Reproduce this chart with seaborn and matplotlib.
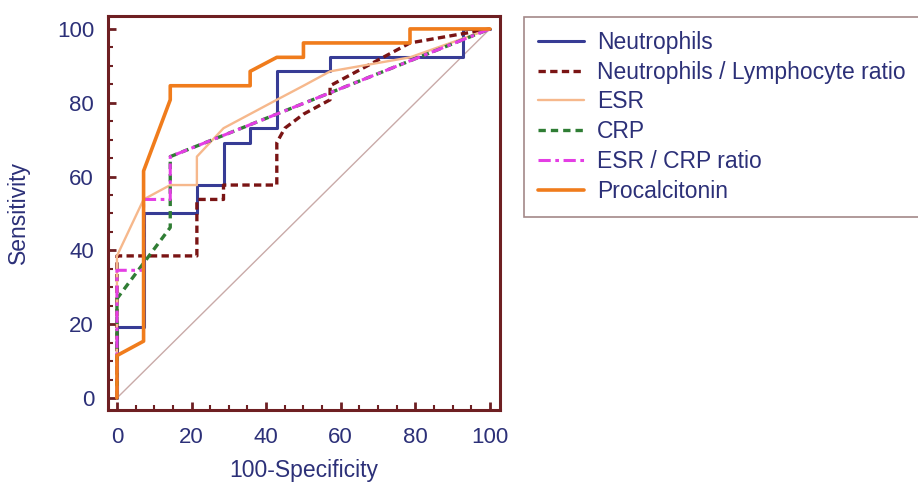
import matplotlib
matplotlib.use('Agg')
import matplotlib.pyplot as plt
import pandas as pd
import seaborn as sns
from matplotlib.ticker import MultipleLocator

# ROC curve points (100-Specificity, Sensitivity)
neut_x = [0, 0, 7.14, 7.14, 21.43, 21.43, 28.57, 28.57, 35.71, 35.71, 42.86, 42.86, 57.14, 57.14, 92.86, 92.86, 100]
neut_y = [0, 19.2, 19.2, 50.0, 50.0, 57.7, 57.7, 69.2, 69.2, 73.1, 73.1, 88.5, 88.5, 92.3, 92.3, 100, 100]

nlr_x = [0, 0, 21.43, 21.43, 28.57, 28.57, 42.86, 42.86, 45.0, 50.0, 57.14, 57.14, 78.57, 100]
nlr_y = [0, 38.5, 38.5, 53.8, 53.8, 57.7, 57.7, 69.2, 73.1, 76.9, 80.8, 84.6, 96.2, 100]

esr_x = [0, 0, 7.14, 14.29, 21.43, 21.43, 28.57, 42.86, 50.0, 57.14, 78.57, 100]
esr_y = [0, 38.5, 53.8, 57.7, 57.7, 65.4, 73.1, 80.8, 84.6, 88.5, 92.3, 100]

crp_x = [0, 0, 14.29, 14.29, 100]
crp_y = [0, 26.9, 46.2, 65.4, 100]

esr_crp_x = [0, 0, 7.14, 7.14, 14.29, 14.29, 100]
esr_crp_y = [0, 34.6, 34.6, 53.8, 53.8, 65.4, 100]

pct_x = [0, 0, 7.14, 7.14, 14.29, 14.29, 35.71, 35.71, 42.86, 50.0, 50.0, 78.57, 78.57, 100]
pct_y = [0, 11.5, 15.4, 61.5, 80.8, 84.6, 84.6, 88.5, 92.3, 92.3, 96.2, 96.2, 100, 100]

labels = ['Neutrophils', 'Neutrophils / Lymphocyte ratio', 'ESR', 'CRP', 'ESR / CRP ratio', 'Procalcitonin']
xs = [neut_x, nlr_x, esr_x, crp_x, esr_crp_x, pct_x]
ys = [neut_y, nlr_y, esr_y, crp_y, esr_crp_y, pct_y]

styles = [
    dict(color='#373c95', lw=2.2, ls='-'),
    dict(color='#7a1414', lw=2.4, ls=(0, (2.2, 1.3))),
    dict(color='#f6b88c', lw=1.7, ls='-'),
    dict(color='#2f7d34', lw=2.4, ls=(0, (2.2, 1.5))),
    dict(color='#e43ee4', lw=2.2, ls=(0, (4, 1.5, 1.2, 1.5))),
    dict(color='#f07c1c', lw=2.6, ls='-'),
]

frame_col = '#6e1f22'
text_col = '#2c3078'

sns.set_style('white')
plt.rcParams['font.family'] = ['Liberation Sans', 'DejaVu Sans']

fig = plt.figure(figsize=(9.18, 4.83), dpi=100)
ax = fig.add_axes([108 / 918, 73 / 483, 392 / 918, 394 / 483])

# reference diagonal
sns.lineplot(x=[0, 100], y=[0, 100], ax=ax, color='#c9aaa8', lw=1.0, sort=False, estimator=None)

for x, y, lab, st in zip(xs, ys, labels, styles):
    df = pd.DataFrame({'x': x, 'y': y})
    sns.lineplot(data=df, x='x', y='y', ax=ax, sort=False, estimator=None, label=lab,
                 color=st['color'], linewidth=st['lw'], linestyle=st['ls'])

ax.set_xlim(-2.4, 102.7)
ax.set_ylim(-3.25, 103.5)
ax.xaxis.set_major_locator(MultipleLocator(20))
ax.xaxis.set_minor_locator(MultipleLocator(5))
ax.yaxis.set_major_locator(MultipleLocator(20))
ax.yaxis.set_minor_locator(MultipleLocator(5))
ax.tick_params(which='both', direction='in', color=frame_col, bottom=True, left=True, top=False, right=False)
ax.tick_params(which='major', length=6, width=2, labelsize=16, labelcolor=text_col, pad=10)
ax.tick_params(which='minor', length=3.5, width=1.5)
ax.tick_params(axis='x', which='major', pad=12)
for sp in ax.spines.values():
    sp.set_color(frame_col)
    sp.set_linewidth(2.2)

ax.set_xlabel('100-Specificity', fontsize=16.5, color=text_col, labelpad=8)
ax.set_ylabel('Sensitivity', fontsize=16.5, color=text_col, labelpad=19)

leg = ax.legend(loc='upper left', bbox_to_anchor=(524 / 918, 1 - 17 / 483), bbox_transform=fig.transFigure,
                fontsize=16.5, frameon=True, fancybox=False, handlelength=2.0, handletextpad=0.6,
                labelspacing=0.3, borderpad=0.6, borderaxespad=0)
leg.get_frame().set_edgecolor('#8c6b6b')
leg.get_frame().set_linewidth(1.2)
for t in leg.get_texts():
    t.set_color(text_col)

fig.savefig('out.png', dpi=100)
